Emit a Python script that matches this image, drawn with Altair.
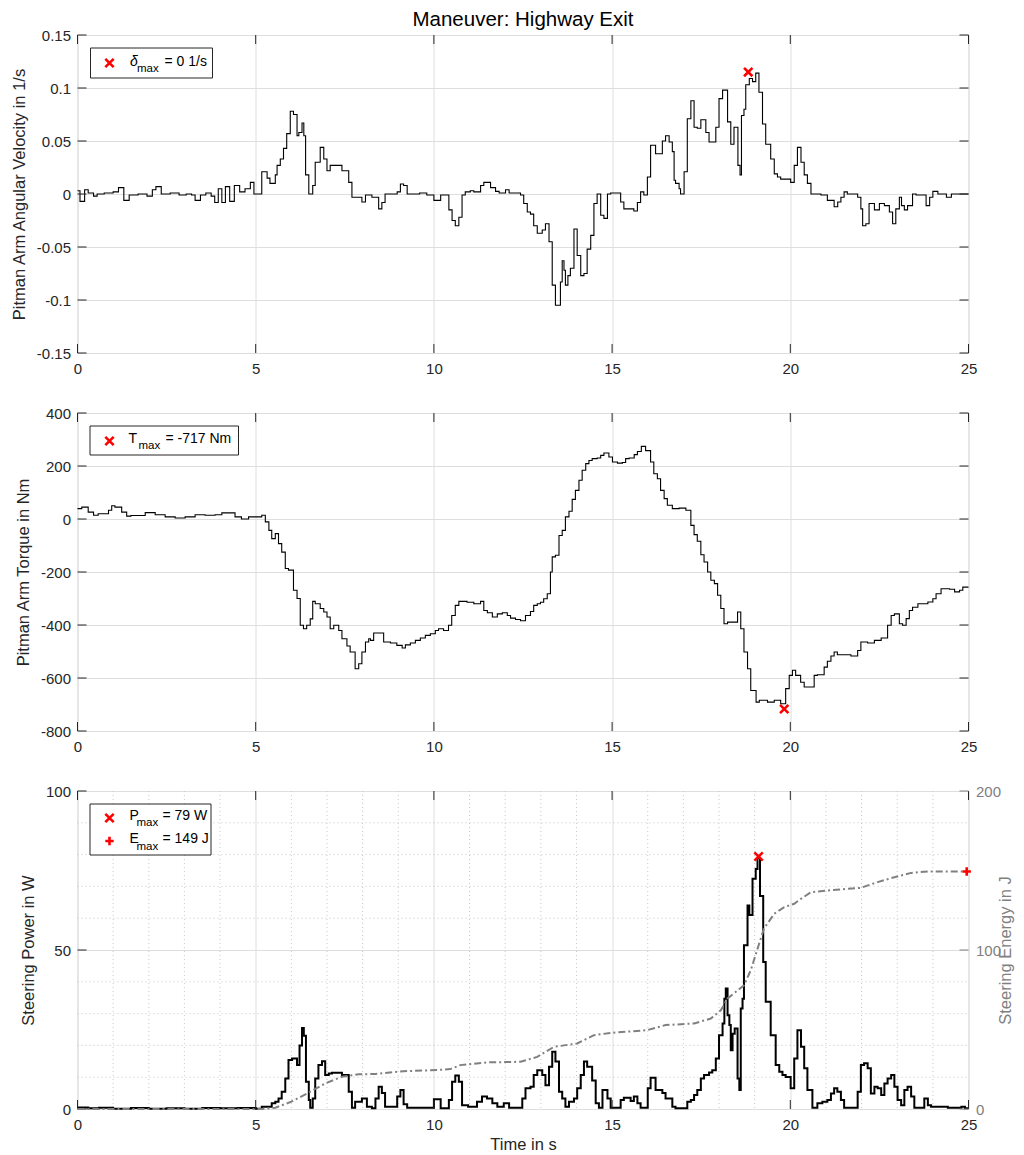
import altair as alt
import pandas as pd

# ---------------- data ----------------
X_TICKS = [0, 5, 10, 15, 20, 25]
X_MINOR = [1, 2, 3, 4, 6, 7, 8, 9, 11, 12, 13, 14, 16, 17, 18, 19, 21, 22, 23, 24]

VEL_TICKS = [-0.15, -0.1, -0.05, 0, 0.05, 0.1, 0.15]
TRQ_TICKS = [-800, -600, -400, -200, 0, 200, 400]
PWR_TICKS = [0, 50, 100]
PWR_MINOR = [10, 20, 30, 40, 60, 70, 80, 90]
NRG_TICKS = [0, 100, 200]

vel_t = [0.00, 0.07, 0.20, 0.30, 0.45, 0.55, 0.75, 1.00, 1.15, 1.30, 1.45, 1.70, 1.95, 2.10, 2.20,
         2.35, 2.60, 2.85, 3.05, 3.20, 3.30, 3.45, 3.60, 3.75, 3.85, 3.95, 4.05, 4.15, 4.27, 4.40,
         4.55, 4.70, 4.85, 4.95, 5.17, 5.32, 5.40, 5.55, 5.60, 5.69, 5.78, 5.87, 5.97, 6.06, 6.16,
         6.21, 6.30, 6.35, 6.40, 6.49, 6.60, 6.67, 6.81, 6.91, 7.00, 7.09, 7.42, 7.61, 7.70, 7.98,
         8.08, 8.26, 8.45, 8.54, 8.63, 8.97, 9.06, 9.15, 9.25, 9.60, 9.80, 10.00, 10.19, 10.42, 10.51,
         10.60, 10.70, 10.79, 10.88, 11.02, 11.12, 11.31, 11.40, 11.59, 11.73, 11.83, 12.01, 12.11,
         12.43, 12.52, 12.62, 12.71, 12.80, 12.90, 13.04, 13.13, 13.23, 13.32, 13.41, 13.55, 13.60,
         13.65, 13.69, 13.76, 13.83, 13.93, 14.02, 14.12, 14.21, 14.30, 14.40, 14.49, 14.58, 14.68,
         14.77, 14.87, 14.96, 15.24, 15.33, 15.61, 15.71, 15.80, 15.89, 15.99, 16.08, 16.22, 16.41,
         16.50, 16.60, 16.69, 16.74, 16.78, 16.88, 16.92, 17.02, 17.11, 17.21, 17.30, 17.39, 17.49,
         17.63, 17.72, 17.91, 18.00, 18.10, 18.24, 18.33, 18.42, 18.53, 18.59, 18.63, 18.70, 18.75,
         18.85, 18.94, 19.03, 19.12, 19.22, 19.31, 19.45, 19.55, 19.64, 19.73, 20.01, 20.11, 20.20,
         20.30, 20.39, 20.48, 20.58, 20.86, 21.04, 21.23, 21.33, 21.42, 21.51, 21.60, 21.89, 21.98,
         22.03, 22.12, 22.21, 22.36, 22.50, 22.64, 22.78, 22.87, 22.96, 23.06, 23.12, 23.20, 23.29,
         23.43, 23.53, 23.81, 23.91, 24.00, 24.14, 24.38, 24.52, 25.00]
vel_v = [0.003, -0.007, 0.004, 0.001, -0.002, 0.0, 0.001, 0.002, 0.006, -0.006, -0.001, 0.0, -0.002,
         0.004, 0.007, 0.0, 0.001, -0.001, 0.0, -0.001, -0.006, -0.001, 0.001, -0.002, -0.008, 0.005,
         -0.008, 0.007, -0.007, 0.008, 0.002, 0.005, 0.011, 0.0, 0.021, 0.015, 0.010, 0.018, 0.027,
         0.033, 0.043, 0.057, 0.078, 0.075, 0.055, 0.058, 0.067, 0.055, 0.018, 0.0, 0.008, 0.030,
         0.044, 0.033, 0.022, 0.027, 0.022, 0.011, -0.003, -0.0075, -0.001, -0.003, -0.014, -0.008,
         0.0, 0.002, 0.0095, 0.008, 0.0, 0.001, -0.001, -0.006, -0.001, -0.015, -0.025, -0.030,
         -0.022, -0.001, 0.002, 0.003, 0.002, 0.008, 0.011, 0.006, 0.0025, 0.001, 0.004, 0.001,
         -0.001, -0.009, -0.017, -0.019, -0.030, -0.037, -0.034, -0.028, -0.045, -0.086, -0.105,
         -0.083, -0.063, -0.072, -0.086, -0.077, -0.070, -0.033, -0.058, -0.077, -0.075, -0.052,
         -0.039, -0.009, 0.0, -0.020, -0.023, 0.0, 0.001, -0.0075, -0.014, -0.016, -0.008, 0.002,
         -0.001, 0.016, 0.046, 0.038, 0.050, 0.055, 0.049, 0.040, 0.013, 0.010, 0.005, 0.0, 0.021,
         0.071, 0.088, 0.063, 0.062, 0.070, 0.058, 0.049, 0.063, 0.090, 0.098, 0.068, 0.047, 0.063,
         0.027, 0.018, 0.074, 0.080, 0.103, 0.109, 0.106, 0.114, 0.096, 0.066, 0.047, 0.033, 0.019,
         0.016, 0.014, 0.011, 0.027, 0.044, 0.030, 0.018, 0.010, 0.0, -0.001, -0.006, -0.012,
         -0.0075, -0.003, 0.002, 0.0, -0.003, -0.014, -0.030, -0.028, -0.009, -0.015, -0.009,
         -0.011, -0.017, -0.028, -0.014, -0.003, -0.011, -0.015, -0.011, 0.0, -0.001, -0.011,
         -0.003, 0.0025, 0.0, -0.003, 0.0, 0.0]

trq_t = [0.00, 0.12, 0.30, 0.45, 0.58, 0.87, 0.96, 1.05, 1.24, 1.38, 1.50, 1.90, 2.18, 2.46, 2.74,
         3.02, 3.30, 3.58, 3.86, 4.05, 4.42, 4.60, 4.80, 5.17, 5.27, 5.37, 5.45, 5.55, 5.64, 5.73,
         5.83, 5.92, 6.06, 6.16, 6.25, 6.34, 6.43, 6.53, 6.60, 6.67, 6.81, 6.91, 7.00, 7.09, 7.19,
         7.33, 7.42, 7.56, 7.65, 7.79, 7.89, 7.98, 8.08, 8.17, 8.22, 8.31, 8.59, 8.78, 8.96, 9.11,
         9.20, 9.34, 9.48, 9.62, 9.76, 9.90, 10.04, 10.13, 10.27, 10.41, 10.50, 10.60, 10.70, 10.93,
         11.12, 11.31, 11.40, 11.50, 11.64, 11.78, 11.92, 12.06, 12.15, 12.29, 12.43, 12.57, 12.71,
         12.80, 12.90, 12.99, 13.08, 13.18, 13.27, 13.32, 13.41, 13.51, 13.60, 13.69, 13.79, 13.88,
         13.97, 14.07, 14.16, 14.26, 14.35, 14.44, 14.58, 14.68, 14.77, 14.91, 15.01, 15.15, 15.29,
         15.38, 15.48, 15.62, 15.71, 15.82, 15.94, 16.08, 16.17, 16.27, 16.36, 16.46, 16.55, 16.69,
         16.88, 17.07, 17.21, 17.30, 17.39, 17.49, 17.58, 17.68, 17.77, 17.87, 17.96, 18.05, 18.14,
         18.24, 18.52, 18.61, 18.70, 18.80, 18.89, 19.04, 19.13, 19.36, 19.55, 19.73, 19.87, 19.97,
         20.06, 20.15, 20.29, 20.39, 20.67, 20.76, 20.95, 21.04, 21.14, 21.23, 21.32, 21.70, 21.89,
         21.98, 22.17, 22.36, 22.55, 22.73, 22.83, 22.92, 23.06, 23.15, 23.25, 23.34, 23.43, 23.58,
         23.86, 24.00, 24.09, 24.23, 24.47, 24.61, 24.75, 24.84, 25.00]
trq_v = [39, 45, 26, 14, 20, 33, 50, 45, 26, 11, 13, 24, 16, 8, 4, 8, 16, 14, 16, 23, 8, 0, 8, 14,
         -11, -43, -74, -55, -93, -125, -187, -193, -269, -300, -401, -414, -401, -377, -311, -320,
         -338, -351, -370, -414, -401, -421, -452, -479, -502, -565, -546, -502, -464, -452, -458,
         -430, -464, -468, -477, -487, -475, -468, -458, -449, -439, -433, -421, -414, -421, -401,
         -364, -326, -311, -314, -320, -311, -345, -354, -370, -358, -354, -364, -374, -379, -384,
         -364, -349, -326, -320, -314, -301, -282, -200, -143, -137, -62, -43, 8, 29, 74, 108, 146,
         184, 209, 221, 228, 230, 240, 249, 234, 215, 211, 213, 228, 230, 243, 255, 274, 258, 215,
         171, 152, 108, 77, 52, 39, 41, 33, -24, -59, -84, -135, -162, -200, -231, -244, -288, -338,
         -395, -389, -351, -414, -502, -565, -647, -691, -684, -691, -684, -697, -640, -590, -571,
         -590, -616, -634, -590, -588, -559, -537, -517, -502, -512, -517, -496, -464, -468, -458,
         -449, -401, -364, -358, -395, -401, -376, -345, -333, -320, -313, -301, -282, -263, -265,
         -275, -269, -257, -257]

pwr_t = [0.00, 0.30, 0.60, 1.00, 1.50, 2.00, 2.50, 3.00, 3.50, 4.00, 4.50, 5.00, 5.17, 5.45, 5.55,
         5.64, 5.73, 5.83, 5.92, 6.02, 6.16, 6.23, 6.30, 6.35, 6.41, 6.49, 6.53, 6.60, 6.67, 6.76,
         6.86, 6.95, 7.05, 7.14, 7.42, 7.61, 7.70, 7.79, 7.98, 8.12, 8.26, 8.36, 8.45, 8.54, 8.63,
         8.97, 9.06, 9.15, 9.25, 10.00, 10.19, 10.42, 10.51, 10.60, 10.70, 10.79, 10.96, 11.21,
         11.35, 11.49, 11.64, 11.78, 11.96, 12.11, 12.48, 12.57, 12.71, 12.80, 12.90, 13.04, 13.13,
         13.23, 13.32, 13.41, 13.51, 13.60, 13.69, 13.79, 13.93, 14.02, 14.12, 14.21, 14.30, 14.44,
         14.54, 14.63, 14.73, 14.87, 14.96, 15.24, 15.33, 15.52, 15.61, 15.71, 15.80, 16.00, 16.08,
         16.22, 16.41, 16.50, 16.55, 16.69, 16.78, 17.11, 17.21, 17.30, 17.39, 17.49, 17.58, 17.72,
         17.81, 17.91, 18.00, 18.10, 18.15, 18.19, 18.24, 18.29, 18.33, 18.38, 18.44, 18.52, 18.57,
         18.61, 18.66, 18.70, 18.80, 18.85, 18.94, 19.03, 19.08, 19.15, 19.24, 19.31, 19.45, 19.59,
         19.69, 19.78, 19.87, 20.01, 20.11, 20.20, 20.30, 20.39, 20.48, 20.62, 20.76, 20.90, 21.04,
         21.14, 21.23, 21.32, 21.42, 21.51, 21.89, 21.98, 22.07, 22.17, 22.26, 22.36, 22.45, 22.55,
         22.64, 22.73, 22.83, 22.92, 23.01, 23.11, 23.20, 23.29, 23.39, 23.48, 23.76, 23.86, 23.95,
         24.42, 24.80, 24.90, 25.00]
pwr_v = [0.5, 0.2, 0.4, 0.1, 0.3, 0.1, 0.2, 0.1, 0.3, 0.2, 0.3, 0.1, 0.7, 1.8, 2.3, 3.3, 5.4, 9.6,
         15.4, 15.9, 13.8, 20.0, 25.5, 23.0, 8.6, 2.8, 0.4, 3.3, 9.6, 13.8, 15.0, 10.7, 11.2, 11.4,
         10.7, 5.4, 0.4, 2.3, 3.3, 0.7, 0.2, 3.3, 7.0, 5.0, 0.7, 3.9, 6.0, 1.5, 0.4, 3.1, 0.2, 2.8,
         8.6, 10.5, 8.6, 1.2, 0.7, 2.3, 3.9, 3.3, 1.8, 0.7, 1.8, 0.4, 3.3, 6.5, 7.0, 10.7, 12.2, 10.7,
         7.5, 13.3, 18.0, 14.9, 5.4, 3.3, 0.7, 2.3, 3.3, 6.5, 10.7, 14.9, 13.3, 9.0, 1.8, 0.4, 6.0,
         3.3, 0.4, 2.8, 3.5, 2.5, 3.9, 1.8, 0.4, 6.5, 9.8, 6.0, 5.0, 3.3, 3.3, 0.7, 0.2, 2.3, 2.8,
         4.4, 6.0, 9.6, 10.7, 11.5, 12.2, 15.9, 23.2, 26.9, 34.7, 37.9, 29.5, 26.4, 18.5, 23.7, 25.3,
         9.6, 6.0, 31.6, 34.7, 51.5, 64.0, 61.0, 72.4, 75.5, 78.9, 67.0, 46.2, 33.7, 23.2, 13.8, 11.7,
         10.7, 10.1, 6.5, 15.9, 24.8, 19.6, 12.8, 6.0, 0.4, 1.8, 2.3, 2.8, 4.9, 6.5, 5.4, 2.8, 0.4,
         5.4, 13.8, 14.4, 12.8, 4.9, 7.0, 6.5, 4.4, 8.0, 9.6, 10.7, 7.0, 2.8, 1.2, 6.0, 7.0, 3.9, 0.4,
         3.3, 1.2, 0.7, 0.4, 0.7, 0.2, 0.2]

nrg_t = [0.00, 5.20, 5.55, 6.00, 6.50, 6.95, 7.42, 7.89, 8.36, 9.15, 10.09, 10.46, 10.74, 11.49,
         12.43, 12.90, 13.37, 14.02, 14.49, 14.96, 15.99, 16.50, 17.30, 17.77, 18.05, 18.24, 18.70,
         18.89, 19.08, 19.26, 19.55, 19.83, 20.11, 20.30, 20.58, 21.04, 21.98, 22.45, 22.92, 23.39,
         23.86, 24.93]
nrg_v = [0.0, 0.0, 0.8, 4.6, 10.5, 16.1, 20.3, 21.8, 22.0, 23.8, 24.5, 25.1, 27.6, 29.3, 29.7,
         32.8, 39.1, 41.2, 46.4, 47.9, 49.6, 52.8, 53.8, 56.9, 62.1, 69.5, 77.8, 87.2, 100.8, 113.4,
         122.8, 127.0, 129.1, 132.2, 136.4, 137.4, 139.1, 142.7, 145.8, 148.5, 149.4, 149.4]

vel_max = {"t": [18.82], "v": [0.115]}
trq_max = {"t": [19.83], "v": [-717]}
pwr_max = {"t": [19.11], "v": [79.4]}
nrg_max = {"t": [24.95], "v": [149.4]}

# ---------------- styling ----------------
W, H = 891, 318
FONT = "Liberation Sans"
AX = "#262626"
GRID = "#dedede"
MINOR = "#c8c8c8"
GRAY = "#808080"
RED = "#ff0000"
TL = 9  # inward tick length
XPATH = "M-1,-1L1,1M-1,1L1,-1"
PPATH = "M-1,0L1,0M0,-1L0,1"
one = pd.DataFrame({"a": [0]})


def minus_fix(fmt):
    return "replace(format(datum.value, '" + fmt + "'), '\u2212', '-')"


def xenc(title=None):
    ax = dict(values=X_TICKS, grid=True, gridColor=GRID, gridWidth=1, tickSize=0, domain=False,
              labelPadding=8, labelFontSize=15, labelColor=AX, labelFont=FONT, labelFlush=False)
    if title:
        ax.update(title=title, titleFontSize=16.5, titleColor=AX, titleFontWeight="normal",
                  titlePadding=4, titleFont=FONT)
    else:
        ax.update(title=None)
    return alt.X("t:Q", scale=alt.Scale(domain=[0, 25], nice=False, zero=False), axis=alt.Axis(**ax))


def yenc(domain, values, title, fmt, orient="left", color=AX, grid=True, tpad=9):
    ax = alt.Axis(values=values, grid=grid, gridColor=GRID, gridWidth=1, tickSize=0, domain=False,
                  labelPadding=7, labelFontSize=15, labelColor=color, labelFont=FONT, labelFlush=False,
                  labelExpr=minus_fix(fmt), title=title, titleFontSize=16.5, titleColor=color,
                  titleFontWeight="normal", titlePadding=tpad, titleFont=FONT, orient=orient,
                  titleAngle=270)
    return alt.Y("v:Q", scale=alt.Scale(domain=domain, nice=False, zero=False), axis=ax)


def xticks(X):
    d = pd.DataFrame({"t": X_TICKS})
    top = alt.Chart(d).mark_rule(color=AX, strokeWidth=1).encode(x=X, y=alt.value(0), y2=alt.value(TL))
    bot = alt.Chart(d).mark_rule(color=AX, strokeWidth=1).encode(x=X, y=alt.value(H - TL), y2=alt.value(H))
    return [top, bot]


def yticks(Y, vals, left=True, right=True, color=AX):
    d = pd.DataFrame({"v": vals})
    out = []
    if left:
        out.append(alt.Chart(d).mark_rule(color=color, strokeWidth=1).encode(
            y=Y, x=alt.value(0), x2=alt.value(TL)))
    if right:
        out.append(alt.Chart(d).mark_rule(color=color, strokeWidth=1).encode(
            y=Y, x=alt.value(W - TL), x2=alt.value(W)))
    return out


def marker(df, X, Y, path):
    return alt.Chart(pd.DataFrame(df)).mark_point(
        shape=path, size=70, filled=False, stroke=RED, strokeWidth=2.6, opacity=1
    ).encode(x=X, y=Y)


def lmarker(x, y, path):
    return alt.Chart(one).mark_point(
        shape=path, size=70, filled=False, stroke=RED, strokeWidth=2.6, opacity=1
    ).encode(x=alt.value(x), y=alt.value(y))


def txt(s, x, y, size=14, style="normal"):
    return alt.Chart(one).mark_text(
        text=s, align="left", baseline="alphabetic", fontSize=size, font=FONT, color="#000",
        fontStyle=style
    ).encode(x=alt.value(x), y=alt.value(y))


def box(x1, x2, y1, y2):
    return alt.Chart(one).mark_rect(fill="white", stroke=AX, strokeWidth=1).encode(
        x=alt.value(x1), x2=alt.value(x2), y=alt.value(y1), y2=alt.value(y2))


# ---------------- panel 1 ----------------
X1 = xenc()
Y1 = yenc([-0.15, 0.15], VEL_TICKS, "Pitman Arm Angular Velocity in 1/s", ".2~f")
d1 = pd.DataFrame({"t": vel_t, "v": vel_v})
line1 = alt.Chart(d1).mark_line(interpolate="step-after", color="#000", strokeWidth=1.1).encode(x=X1, y=Y1)
p1 = alt.layer(
    line1, *xticks(X1), *yticks(Y1, VEL_TICKS), marker(vel_max, X1, Y1, XPATH),
    box(13, 135, 13, 43), lmarker(32, 28, XPATH),
    txt("\u03b4", 52.5, 31, 14, "italic"), txt("max", 59.5, 37, 11.5), txt("= 0 1/s", 87, 31, 14),
).properties(
    width=W, height=H,
    title=alt.TitleParams("Maneuver: Highway Exit", fontSize=20.5, fontWeight="normal", font=FONT,
                          color="#000", anchor="middle", frame="group", offset=-2),
)

# ---------------- panel 2 ----------------
X2 = xenc()
Y2 = yenc([-800, 400], TRQ_TICKS, "Pitman Arm Torque in Nm", "d")
d2 = pd.DataFrame({"t": trq_t, "v": trq_v})
line2 = alt.Chart(d2).mark_line(interpolate="step-after", color="#000", strokeWidth=1.1).encode(x=X2, y=Y2)
p2 = alt.layer(
    line2, *xticks(X2), *yticks(Y2, TRQ_TICKS), marker(trq_max, X2, Y2, XPATH),
    box(12.5, 161, 13, 42), lmarker(32, 28, XPATH),
    txt("T", 51, 29.5, 14), txt("max", 61, 36, 11.5), txt("= -717 Nm", 88, 29.5, 14),
).properties(width=W, height=H)

# ---------------- panel 3 ----------------
X3 = xenc("Time in s")
Y3 = yenc([0, 100], PWR_TICKS, "Steering Power in W", "d")
Y3e = yenc([0, 200], NRG_TICKS, "Steering Energy in J", "d", orient="right", color=GRAY, grid=False,
           tpad=13)

gx = alt.Chart(pd.DataFrame({"t": X_MINOR})).mark_rule(color=MINOR, strokeWidth=1, strokeDash=[1, 3]).encode(
    x=X3, y=alt.value(0), y2=alt.value(H))
gy = alt.Chart(pd.DataFrame({"v": PWR_MINOR})).mark_rule(color=MINOR, strokeWidth=1, strokeDash=[1, 3]).encode(
    y=Y3, x=alt.value(0), x2=alt.value(W))
d3 = pd.DataFrame({"t": pwr_t, "v": pwr_v})
line3 = alt.Chart(d3).mark_line(interpolate="step-after", color="#000", strokeWidth=2).encode(x=X3, y=Y3)

left = alt.layer(
    gx, gy, line3, *xticks(X3), *yticks(Y3, PWR_TICKS, right=False), marker(pwr_max, X3, Y3, XPATH),
)

d3e = pd.DataFrame({"t": nrg_t, "v": nrg_v})
line3e = alt.Chart(d3e).mark_line(color=GRAY, strokeWidth=2, strokeDash=[7, 3, 2, 3]).encode(x=X3, y=Y3e)
right = alt.layer(
    line3e, *yticks(Y3e, NRG_TICKS, left=False, color=GRAY), marker(nrg_max, X3, Y3e, PPATH),
    box(12.5, 133.5, 13, 64), lmarker(32, 27, XPATH), lmarker(32, 50, PPATH),
    txt("P", 52, 28.7, 14), txt("max", 59, 35.3, 11.5), txt("= 79 W", 85, 28.7, 14),
    txt("E", 52, 52, 14), txt("max", 59, 58.7, 11.5), txt("= 149 J", 85, 52, 14),
)

p3 = alt.layer(left, right).resolve_scale(y="independent").properties(width=W, height=H)

chart = alt.vconcat(p1, p2, p3, spacing=60, bounds="flush").properties(
    padding={"left": 2.5, "top": 1, "right": 0, "bottom": 0}
).configure_view(stroke=AX, strokeWidth=1).configure(font=FONT)

chart.save("out.html", embed_options={"renderer": "svg", "actions": False})
